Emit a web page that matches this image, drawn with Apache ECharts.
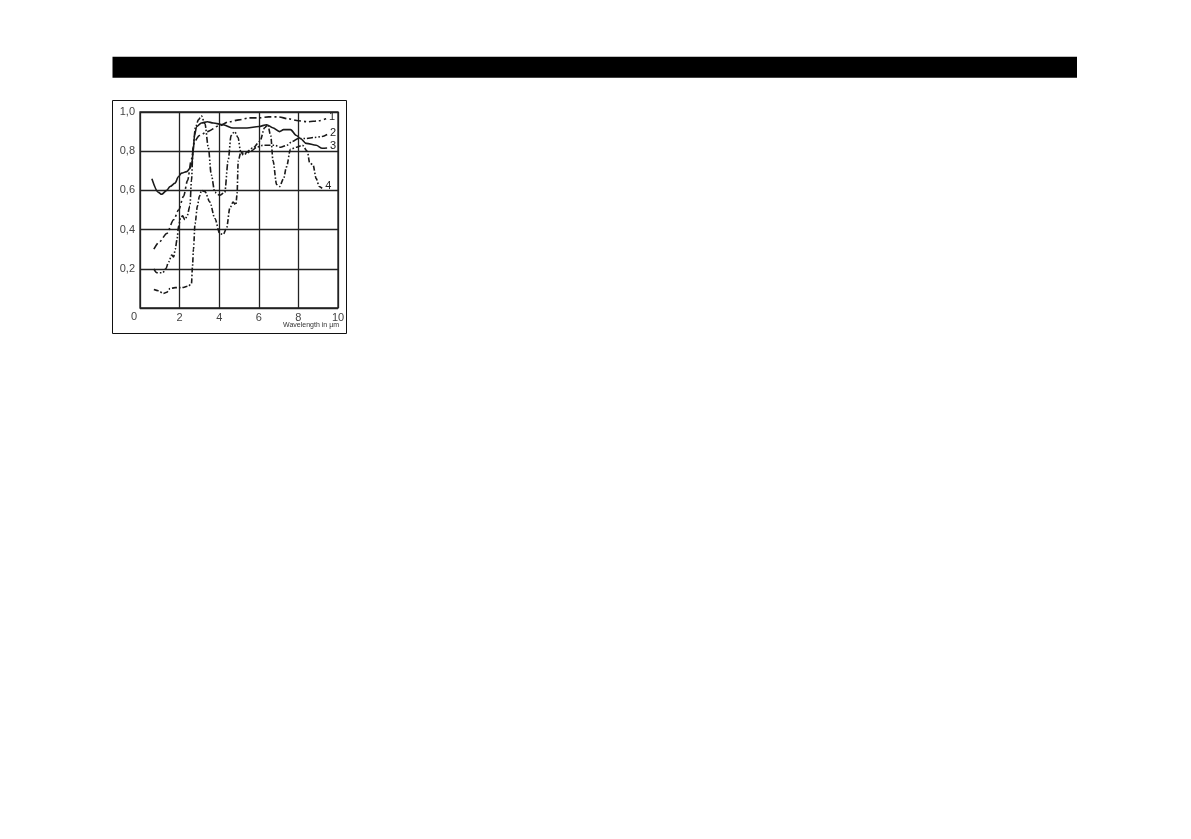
<!DOCTYPE html>
<html>
<head>
<meta charset="utf-8">
<script src="https://cdn.jsdelivr.net/npm/echarts@6/dist/echarts.min.js"></script>
<style>
  html, body { margin: 0; padding: 0; background: #fff; }
  #chart { width: 1191px; height: 839px; }
</style>
</head>
<body>
<div id="chart"></div>
<script>
// Wavelength (µm) and values for the four curves
const x1 = [0.7, 1.0, 1.35, 1.7, 1.95, 2.2, 2.4, 2.6, 2.75, 3.0, 3.4, 4.0, 4.5, 5.0, 5.5, 6.0, 6.5, 7.0, 7.5, 8.0, 8.5, 9.0, 9.4]
const y1 = [0.30, 0.34, 0.38, 0.45, 0.50, 0.57, 0.65, 0.76, 0.85, 0.88, 0.90, 0.93, 0.95, 0.96, 0.97, 0.97, 0.975, 0.975, 0.965, 0.955, 0.95, 0.955, 0.965]

const x2 = [0.7, 0.85, 1.15, 1.3, 1.45, 1.6, 1.7, 1.78, 1.87, 1.95, 2.05, 2.15, 2.27, 2.38, 2.52, 2.6, 2.68, 2.8, 2.95, 3.1, 3.28, 3.45, 3.6, 3.78, 4.02, 4.28, 4.45, 4.6, 4.78, 4.95, 5.08, 5.22, 5.4, 5.6, 5.9, 6.2, 6.5, 6.8, 7.1, 7.4, 7.7, 8.0, 8.4, 8.8, 9.2, 9.45]
const y2 = [0.20, 0.18, 0.18, 0.20, 0.235, 0.27, 0.26, 0.30, 0.35, 0.42, 0.46, 0.47, 0.45, 0.47, 0.52, 0.65, 0.82, 0.92, 0.96, 0.98, 0.94, 0.82, 0.68, 0.59, 0.575, 0.59, 0.75, 0.88, 0.90, 0.87, 0.80, 0.78, 0.79, 0.80, 0.82, 0.83, 0.83, 0.83, 0.82, 0.83, 0.85, 0.865, 0.865, 0.87, 0.875, 0.885]

const x3 = [0.6, 0.93, 1.09, 1.35, 1.52, 1.77, 1.94, 2.1, 2.36, 2.53, 2.62, 2.69, 2.75, 2.86, 3.1, 3.4, 3.7, 4.2, 4.7, 5.4, 6.0, 6.4, 6.7, 7.05, 7.25, 7.6, 7.9, 8.1, 8.4, 8.9, 9.2, 9.45]
const y3 = [0.66, 0.59, 0.58, 0.60, 0.62, 0.637, 0.67, 0.688, 0.696, 0.713, 0.74, 0.80, 0.88, 0.925, 0.944, 0.95, 0.944, 0.935, 0.918, 0.918, 0.926, 0.935, 0.92, 0.90, 0.91, 0.91, 0.88, 0.865, 0.84, 0.83, 0.815, 0.816]

const x4 = [0.7, 0.93, 1.18, 1.35, 1.52, 1.77, 2.1, 2.44, 2.6, 2.65, 2.7, 2.78, 2.9, 3.0, 3.11, 3.28, 3.53, 3.78, 4.03, 4.2, 4.37, 4.54, 4.7, 4.84, 4.9, 4.96, 5.08, 5.3, 5.7, 6.05, 6.3, 6.45, 6.6, 6.72, 6.9, 7.05, 7.25, 7.4, 7.6, 7.9, 8.2, 8.45, 8.57, 8.74, 8.9, 9.05, 9.2]
const y4 = [0.094, 0.088, 0.074, 0.08, 0.099, 0.104, 0.104, 0.111, 0.125, 0.21, 0.30, 0.43, 0.52, 0.57, 0.60, 0.594, 0.54, 0.457, 0.38, 0.375, 0.406, 0.51, 0.54, 0.526, 0.577, 0.75, 0.79, 0.79, 0.816, 0.85, 0.92, 0.935, 0.88, 0.75, 0.63, 0.62, 0.66, 0.72, 0.81, 0.82, 0.83, 0.80, 0.74, 0.73, 0.66, 0.62, 0.61]

const curveNames = ['1', '2', '3', '4']
const xTicks = [2, 4, 6, 8, 10]
const yTicks = [0.2, 0.4, 0.6, 0.8, 1.0]
const originLabel = '0'
const axisTitle = 'Wavelength in µm'

const pairs = (xs, ys) => xs.map((x, i) => [x, ys[i]])

const chart = echarts.init(document.getElementById('chart'))

const dashes = [[7, 3, 2, 3], [6, 2, 1.5, 2, 1.5, 2], 'solid', [5, 2, 1.5, 2]]
const allData = [pairs(x1, y1), pairs(x2, y2), pairs(x3, y3), pairs(x4, y4)]

const option = {
  animation: false,
  grid: {
    left: 140, right: 853, top: 112, bottom: 531,
    show: true, borderColor: '#222', borderWidth: 1.3
  },
  xAxis: {
    type: 'value', min: 0, max: 10, interval: 2,
    axisLine: { show: false },
    axisTick: { show: false },
    splitLine: { lineStyle: { color: '#222', width: 1.3 } },
    axisLabel: {
      color: '#444', fontSize: 11, fontFamily: 'Liberation Sans', margin: 4,
      formatter: v => xTicks.includes(v) ? String(v) : ''
    }
  },
  yAxis: {
    type: 'value', min: 0, max: 1, interval: 0.2,
    axisLine: { show: false },
    axisTick: { show: false },
    splitLine: { lineStyle: { color: '#222', width: 1.3 } },
    axisLabel: {
      color: '#444', fontSize: 11, fontFamily: 'Liberation Sans', margin: 5,
      formatter: v => yTicks.some(t => Math.abs(t - v) < 1e-6) ? v.toFixed(1).replace('.', ',') : ''
    }
  },
  graphic: [
    { type: 'rect', shape: { x: 112.5, y: 56.7, width: 964.5, height: 21 }, style: { fill: '#000' } },
    { type: 'rect', shape: { x: 112.5, y: 100.5, width: 234, height: 233 }, style: { fill: 'none', stroke: '#111', lineWidth: 1 } },
    { type: 'text', left: 131, top: 311, style: { text: originLabel, fill: '#444', font: '11px "Liberation Sans"' } },
    { type: 'text', right: 1191 - 339, top: 322, style: { text: axisTitle, fill: '#333', font: '7px "Liberation Sans"' } }
  ],
  series: allData.map((d, i) => ({
    name: curveNames[i],
    type: 'line',
    data: d,
    smooth: 0.3,
    smoothMonotone: 'x',
    showSymbol: false,
    lineStyle: { color: '#1a1a1a', width: 1.6, type: dashes[i] },
    endLabel: {
      show: true, formatter: curveNames[i], distance: 3,
      color: '#222', fontSize: 11, fontFamily: 'Liberation Sans',
      offset: [0, -2]
    }
  }))
}

option && chart.setOption(option)
</script>
</body>
</html>
